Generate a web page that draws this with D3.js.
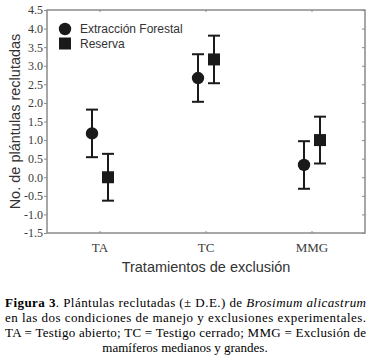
<!DOCTYPE html>
<html>
<head>
<meta charset="utf-8">
<script src="https://cdn.jsdelivr.net/npm/d3@7"></script>
<style>
  body { margin: 0; background: #fff; }
  svg { display: block; }
</style>
</head>
<body>
<div id="chart"></div>
<script>
// data
const categories = ["TA", "TC", "MMG"];
const seriesNames = ["Extracción Forestal", "Reserva"];
const extraccionMean = [1.18, 2.67, 0.33];
const extraccionSD = [0.64, 0.64, 0.64];
const reservaMean = [0.0, 3.17, 1.0];
const reservaSD = [0.63, 0.64, 0.63];
const yTicks = [-1.5, -1.0, -0.5, 0.0, 0.5, 1.0, 1.5, 2.0, 2.5, 3.0, 3.5, 4.0, 4.5];

const W = 369, H = 359;
const margin = { top: 10, right: 4, bottom: 126, left: 47 },
    width = W - margin.left - margin.right,
    height = H - margin.top - margin.bottom;

const serif = "'Liberation Serif', 'Times New Roman', serif";
const sans = "'Liberation Sans', Arial, sans-serif";

const svg = d3.select("#chart")
    .append("svg")
    .attr("width", W)
    .attr("height", H);

const g = svg.append("g")
    .attr("transform", `translate(${margin.left},${margin.top})`);

// scales
const x = d3.scaleBand()
    .domain(categories)
    .range([0, width]);
const y = d3.scaleLinear()
    .domain([-1.5, 4.5])
    .range([height, 0]);

const offset = { "Extracción Forestal": -8, "Reserva": 8 };

const frameColor = "#8a8a8a";

// frame
g.append("rect")
    .attr("width", width)
    .attr("height", height)
    .attr("fill", "none")
    .attr("stroke", frameColor)
    .attr("stroke-width", 1.5);

// left axis
const yAxis = g.append("g")
    .call(d3.axisLeft(y).tickValues(yTicks).tickSize(3).tickSizeOuter(0));
yAxis.select(".domain").remove();
yAxis.selectAll("line").attr("stroke", frameColor);
yAxis.selectAll("text")
    .attr("font-family", serif)
    .attr("font-size", 12)
    .attr("fill", "#3a3a3a")
    .attr("x", -4)
    .text(d => d3.format(".1f")(d).replace("−", "-"));

// right axis inner ticks
const yAxisR = g.append("g")
    .attr("transform", `translate(${width},0)`)
    .call(d3.axisLeft(y).tickValues(yTicks).tickFormat("").tickSize(3).tickSizeOuter(0));
yAxisR.select(".domain").remove();
yAxisR.selectAll("line").attr("stroke", frameColor);

// bottom axis
const xAxis = g.append("g")
    .attr("transform", `translate(0,${height})`)
    .call(d3.axisBottom(x).tickSize(-2).tickSizeOuter(0).tickPadding(10));
xAxis.select(".domain").remove();
xAxis.selectAll("line").attr("stroke", frameColor);
xAxis.selectAll("text")
    .attr("font-family", serif)
    .attr("font-size", 13)
    .attr("fill", "#3a3a3a");

// top ticks
const xAxisT = g.append("g")
    .call(d3.axisBottom(x).tickSize(2).tickSizeOuter(0).tickFormat(""));
xAxisT.select(".domain").remove();
xAxisT.selectAll("line").attr("stroke", frameColor);

// series rows
const rows = [];
categories.forEach((c, i) => {
    rows.push({ cat: c, series: seriesNames[0], mean: extraccionMean[i], sd: extraccionSD[i] });
    rows.push({ cat: c, series: seriesNames[1], mean: reservaMean[i], sd: reservaSD[i] });
});
const cx = d => x(d.cat) + x.bandwidth() / 2 + offset[d.series];

const ink = "#1a1a1a";
const capW = 6;

const bars = g.append("g")
    .selectAll("g")
    .data(rows)
    .join("g");

bars.append("line")
    .attr("x1", cx).attr("x2", cx)
    .attr("y1", d => y(d.mean + d.sd))
    .attr("y2", d => y(d.mean - d.sd))
    .attr("stroke", ink).attr("stroke-width", 2);
bars.append("line")
    .attr("x1", d => cx(d) - capW).attr("x2", d => cx(d) + capW)
    .attr("y1", d => y(d.mean + d.sd)).attr("y2", d => y(d.mean + d.sd))
    .attr("stroke", ink).attr("stroke-width", 2);
bars.append("line")
    .attr("x1", d => cx(d) - capW).attr("x2", d => cx(d) + capW)
    .attr("y1", d => y(d.mean - d.sd)).attr("y2", d => y(d.mean - d.sd))
    .attr("stroke", ink).attr("stroke-width", 2);

const symbolFor = s => s === seriesNames[0]
    ? d3.symbol().type(d3.symbolCircle).size(Math.PI * 6.2 * 6.2)
    : d3.symbol().type(d3.symbolSquare).size(12 * 12);

bars.append("path")
    .attr("transform", d => `translate(${cx(d)},${y(d.mean)})`)
    .attr("d", d => symbolFor(d.series)())
    .attr("fill", ink);

// legend
const legend = g.append("g")
    .attr("transform", "translate(18,19)")
    .selectAll("g")
    .data(seriesNames)
    .join("g")
    .attr("transform", (d, i) => `translate(0,${i * 14.5})`);
legend.append("path")
    .attr("d", d => symbolFor(d)())
    .attr("fill", ink);
legend.append("text")
    .attr("x", 15)
    .attr("dy", "0.35em")
    .attr("font-family", sans)
    .attr("font-size", 12)
    .attr("fill", "#333")
    .text(d => d);

// axis titles
svg.append("text")
    .attr("transform", `translate(15,${margin.top + height / 2}) rotate(-90)`)
    .attr("text-anchor", "middle")
    .attr("dy", "0.35em")
    .attr("font-family", sans)
    .attr("font-size", 14.5)
    .attr("fill", "#333")
    .text("No. de plántulas reclutadas");

svg.append("text")
    .attr("x", margin.left + width / 2)
    .attr("y", 272)
    .attr("text-anchor", "middle")
    .attr("font-family", sans)
    .attr("font-size", 14.5)
    .attr("fill", "#333")
    .text("Tratamientos de exclusión");

// caption, justified lines
const cap = svg.append("g")
    .attr("font-family", serif)
    .attr("font-size", 13)
    .attr("fill", "#000");

const l1 = cap.append("text").attr("x", 5).attr("y", 307);
l1.append("tspan").attr("font-weight", "bold").text("Figura 3");
l1.append("tspan").text(". Plántulas reclutadas (± D.E.) de ");
l1.append("tspan").attr("font-style", "italic").text("Brosimum alicastrum");

const l2 = cap.append("text").attr("x", 5).attr("y", 322)
    .text("en las dos condiciones de manejo y exclusiones experimentales.");
const l3 = cap.append("text").attr("x", 5).attr("y", 337)
    .text("TA = Testigo abierto; TC = Testigo cerrado; MMG = Exclusión de");
cap.append("text").attr("x", 185).attr("y", 352)
    .attr("text-anchor", "middle")
    .text("mamíferos medianos y grandes.");

[l1, l2, l3].forEach(t => {
    const natural = t.node().getComputedTextLength();
    if (natural > 361) t.attr("font-size", 13 * 361 / natural);
    t.attr("textLength", 361).attr("lengthAdjust", "spacing");
});
</script>
</body>
</html>
